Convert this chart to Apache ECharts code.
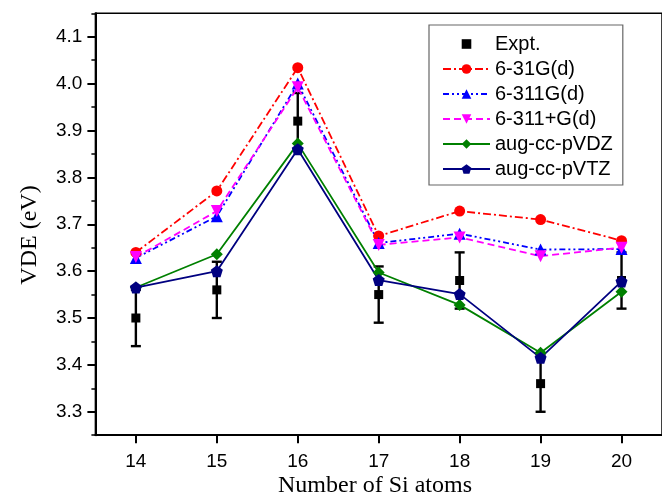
<!DOCTYPE html>
<html>
<head>
<meta charset="utf-8">
<script src="https://cdn.jsdelivr.net/npm/echarts@6/dist/echarts.min.js"></script>
<style>html,body{margin:0;padding:0;background:#fff;}#c{width:662px;height:499px;}</style>
</head>
<body>
<div id="c"></div>
<script>
const atoms = [14, 15, 16, 17, 18, 19, 20];
const expt = [3.50, 3.56, 3.92, 3.55, 3.58, 3.36, 3.58];
const exptErr = [0.06, 0.06, 0.06, 0.06, 0.06, 0.06, 0.06];
const g631d = [3.640, 3.771, 4.034, 3.675, 3.728, 3.710, 3.665];
const g6311d = [3.628, 3.717, 4.000, 3.660, 3.680, 3.646, 3.647];
const g6311pd = [3.630, 3.728, 3.992, 3.656, 3.672, 3.632, 3.650];
const vdz = [3.565, 3.636, 3.872, 3.597, 3.528, 3.426, 3.556];
const vtz = [3.565, 3.600, 3.860, 3.581, 3.551, 3.415, 3.578];
const yMajor = [3.3, 3.4, 3.5, 3.6, 3.7, 3.8, 3.9, 4.0, 4.1];
const yMinor = [3.25, 3.35, 3.45, 3.55, 3.65, 3.75, 3.85, 3.95, 4.05, 4.15];
const xTicks = [14, 15, 16, 17, 18, 19, 20];
const names = ['Expt.', '6-31G(d)', '6-311G(d)', '6-311+G(d)', 'aug-cc-pVDZ', 'aug-cc-pVTZ'];

const pair = arr => atoms.map((x, i) => [x, arr[i]]);
const pentagon = 'path://M0,-1 L0.951,-0.309 L0.588,0.809 L-0.588,0.809 L-0.951,-0.309 Z';
const sans = 'Liberation Sans';

function lineSeries(name, arr, color, dash, symbol, size, rotate) {
  return {
    name: name, type: 'line', data: pair(arr),
    symbol: symbol, symbolSize: size, symbolRotate: rotate || 0,
    lineStyle: { color: color, width: 1.8, type: dash },
    itemStyle: { color: color },
    emphasis: { disabled: true }
  };
}

const chart = echarts.init(document.getElementById('c'));
chart.setOption({
  backgroundColor: '#fff',
  animation: false,
  grid: { left: 95.4, right: -2.4, top: 13.3, bottom: 63.8, show: true, borderColor: '#000', borderWidth: 1.5, backgroundColor: 'transparent' },
  xAxis: {
    type: 'value', min: 13.5, max: 20.5,
    axisLine: { show: true, lineStyle: { color: '#000', width: 2 } },
    axisTick: { show: true, length: 8, customValues: xTicks, lineStyle: { color: '#000', width: 2 } },
    axisLabel: { customValues: xTicks, fontFamily: sans, fontSize: 19, color: '#000', margin: 17 },
    splitLine: { show: false }
  },
  yAxis: [{
    type: 'value', min: 3.25, max: 4.15,
    axisLine: { show: true, lineStyle: { color: '#000', width: 2 } },
    axisTick: { show: true, length: 8, customValues: yMajor, lineStyle: { color: '#000', width: 2 } },
    axisLabel: { customValues: yMajor, formatter: v => v.toFixed(1), fontFamily: sans, fontSize: 19, color: '#000', margin: 13 },
    splitLine: { show: false }
  }, {
    type: 'value', min: 3.25, max: 4.15, position: 'left', offset: 0,
    axisLine: { show: false },
    axisTick: { show: true, length: 4, customValues: yMinor, lineStyle: { color: '#000', width: 1.5 } },
    axisLabel: { show: false },
    splitLine: { show: false }
  }],
  legend: {
    orient: 'vertical', left: 429, top: 25,
    padding: [9, 10, 6, 13], itemGap: 5,
    itemWidth: 47, itemHeight: 12,
    borderColor: '#666', borderWidth: 1.2,
    textStyle: { fontFamily: sans, fontSize: 20, color: '#000' },
    data: names
  },
  series: [
    {
      name: 'ExptErr', type: 'custom',
      data: atoms.map((x, i) => [x, expt[i] - exptErr[i], expt[i] + exptErr[i]]),
      renderItem: function (params, api) {
        const x = api.value(0);
        const lo = api.coord([x, api.value(1)]);
        const hi = api.coord([x, api.value(2)]);
        const hw = 5;
        const st = { stroke: '#000', lineWidth: 2.4 };
        return { type: 'group', children: [
          { type: 'line', shape: { x1: lo[0], y1: lo[1], x2: hi[0], y2: hi[1] }, style: st },
          { type: 'line', shape: { x1: lo[0] - hw, y1: lo[1], x2: lo[0] + hw, y2: lo[1] }, style: st },
          { type: 'line', shape: { x1: hi[0] - hw, y1: hi[1], x2: hi[0] + hw, y2: hi[1] }, style: st }
        ]};
      },
      z: 2
    },
    {
      name: 'Expt.', type: 'line', data: pair(expt), symbol: 'rect', symbolSize: 9,
      lineStyle: { width: 0, opacity: 0 }, itemStyle: { color: '#000' },
      emphasis: { disabled: true }, z: 2
    },
    lineSeries('6-31G(d)', g631d, '#ff0000', [8, 3, 2, 3], 'circle', 11),
    lineSeries('6-311G(d)', g6311d, '#0000ff', [6, 3, 2, 3, 2, 3], 'triangle', 12),
    lineSeries('6-311+G(d)', g6311pd, '#ff00ff', [7, 4], 'triangle', 12, 180),
    lineSeries('aug-cc-pVDZ', vdz, '#008000', 'solid', 'diamond', 12),
    lineSeries('aug-cc-pVTZ', vtz, '#000080', 'solid', pentagon, 12)
  ],
  graphic: [
    { type: 'text', x: 375, y: 486, style: { text: 'Number of Si atoms', font: '24px "Liberation Serif"', fill: '#000', textAlign: 'center', textVerticalAlign: 'middle' } },
    { type: 'text', x: 30, y: 235, rotation: Math.PI / 2, style: { text: 'VDE (eV)', font: '24px "Liberation Serif"', fill: '#000', textAlign: 'center', textVerticalAlign: 'middle' } }
  ]
});
</script>
</body>
</html>
